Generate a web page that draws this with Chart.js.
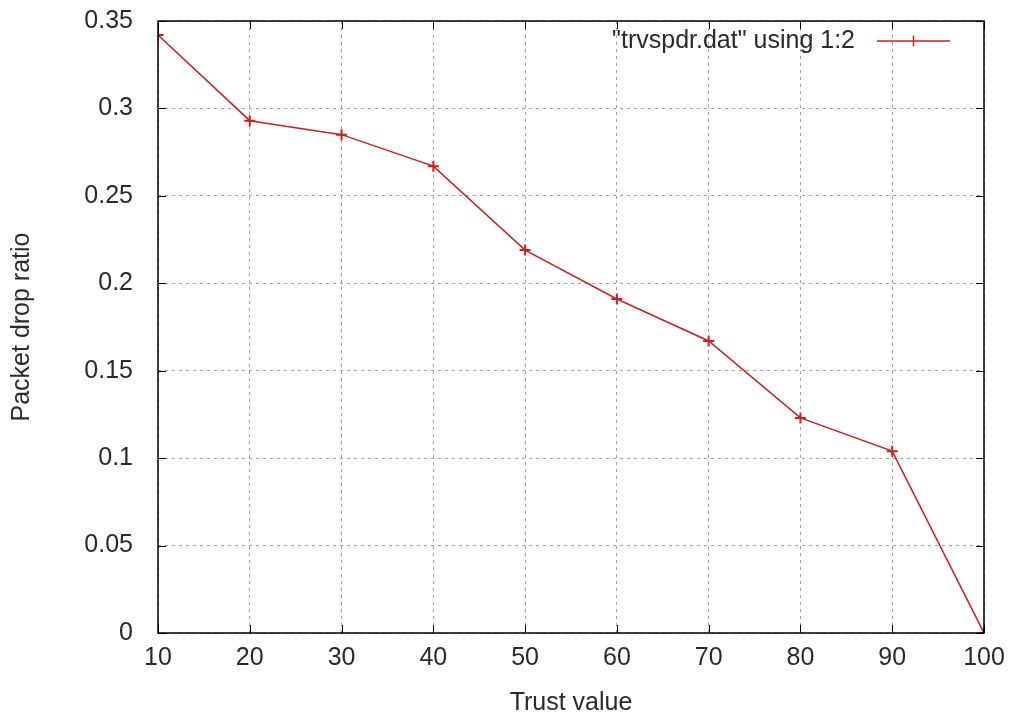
<!DOCTYPE html>
<html>
<head>
<meta charset="utf-8">
<script src="https://cdn.jsdelivr.net/npm/chart.js@4"></script>
<style>
  html, body { margin: 0; padding: 0; background: #fff; }
  #wrap { width: 1009px; height: 714px; position: relative; }
</style>
</head>
<body>
<div id="wrap"><canvas id="chart"></canvas></div>
<script>
const trustValues = [10, 20, 30, 40, 50, 60, 70, 80, 90, 100];
const dropRatio = [0.342, 0.293, 0.285, 0.267, 0.219, 0.191, 0.167, 0.123, 0.104, 0.0];
const seriesLabel = '"trvspdr.dat" using 1:2';
const xTitle = 'Trust value';
const yTitle = 'Packet drop ratio';

const lineColor = '#cc2020';
const textColor = '#2a2a2a';
const fontFamily = '"Liberation Sans", Arial, sans-serif';
const fontSize = 25;

// gnuplot style frame with inward mirror ticks and a key in the top right
const framePlugin = {
    id: 'frame',
    afterDatasetsDraw(chart) {
        const { ctx, chartArea: a, scales } = chart;
        ctx.save();
        ctx.strokeStyle = '#000';
        ctx.lineWidth = 1.5;
        ctx.setLineDash([]);
        ctx.strokeRect(a.left, a.top, a.right - a.left, a.bottom - a.top);
        ctx.lineWidth = 1;
        const t = 8;
        scales.x.ticks.forEach(tk => {
            const x = Math.round(scales.x.getPixelForValue(tk.value)) + 0.5;
            ctx.beginPath();
            ctx.moveTo(x, a.bottom); ctx.lineTo(x, a.bottom - t);
            ctx.moveTo(x, a.top); ctx.lineTo(x, a.top + t);
            ctx.stroke();
        });
        scales.y.ticks.forEach(tk => {
            const y = Math.round(scales.y.getPixelForValue(tk.value)) + 0.5;
            ctx.beginPath();
            ctx.moveTo(a.left, y); ctx.lineTo(a.left + t, y);
            ctx.moveTo(a.right, y); ctx.lineTo(a.right - t, y);
            ctx.stroke();
        });

        // key
        const ds = chart.data.datasets[0];
        const ky = a.top + 20;
        const sx1 = a.right - 107, sx2 = a.right - 34;
        ctx.font = fontSize + 'px ' + fontFamily;
        ctx.fillStyle = textColor;
        ctx.textAlign = 'right';
        ctx.textBaseline = 'middle';
        ctx.fillText(ds.label, sx1 - 22, ky);
        ctx.strokeStyle = ds.borderColor;
        ctx.lineWidth = 1.5;
        ctx.beginPath();
        ctx.moveTo(sx1, ky); ctx.lineTo(sx2, ky);
        const mx = (sx1 + sx2) / 2;
        ctx.moveTo(mx, ky - 5.5); ctx.lineTo(mx, ky + 5.5);
        ctx.stroke();
        ctx.restore();
    }
};

new Chart(document.getElementById('chart'), {
    type: 'line',
    data: {
        datasets: [{
            label: seriesLabel,
            data: trustValues.map((x, i) => ({ x: x, y: dropRatio[i] })),
            borderColor: lineColor,
            backgroundColor: lineColor,
            borderWidth: 1.5,
            pointStyle: 'cross',
            pointRadius: 5.5,
            pointBorderWidth: 2,
            pointBorderColor: lineColor,
            tension: 0,
            fill: false,
        }]
    },
    options: {
        responsive: true,
        maintainAspectRatio: false,
        animation: false,
        layout: { padding: { top: 21, right: 25, left: 0, bottom: 0 } },
        plugins: {
            legend: { display: false },
            tooltip: { enabled: false },
        },
        scales: {
            x: {
                type: 'linear',
                min: 10,
                max: 100,
                ticks: {
                    stepSize: 10,
                    color: textColor,
                    padding: 10,
                    maxRotation: 0,
                    font: { family: fontFamily, size: fontSize },
                },
                grid: { color: '#a0a0a0', lineWidth: 1, drawTicks: false },
                border: { display: false, dash: [3, 4] },
                title: {
                    display: true,
                    text: xTitle,
                    color: textColor,
                    font: { family: fontFamily, size: fontSize, lineHeight: 1 },
                    padding: { top: 0, bottom: -2 },
                },
                afterFit(scale) {
                    scale.height = 81;
                    scale.paddingLeft = 0;
                    scale.paddingRight = 0;
                },
            },
            y: {
                min: 0,
                max: 0.35,
                ticks: {
                    stepSize: 0.05,
                    color: textColor,
                    padding: 25,
                    font: { family: fontFamily, size: fontSize },
                    callback: v => String(+v.toFixed(2)),
                },
                grid: { color: '#a0a0a0', lineWidth: 1, drawTicks: false },
                border: { display: false, dash: [3, 4] },
                title: {
                    display: true,
                    text: yTitle,
                    color: textColor,
                    font: { family: fontFamily, size: fontSize, lineHeight: 1 },
                    padding: { top: 10, bottom: 0 },
                },
                afterFit(scale) {
                    scale.width = 158;
                    scale.paddingTop = 0;
                    scale.paddingBottom = 0;
                },
            }
        }
    },
    plugins: [framePlugin]
});
</script>
</body>
</html>
